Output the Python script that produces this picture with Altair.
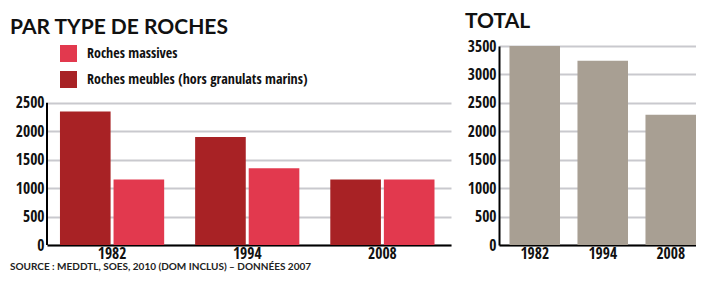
import altair as alt
import pandas as pd

years = ["1982", "1994", "2008"]
massives = [1150, 1350, 1150]
meubles = [2350, 1900, 1150]
totals = [3500, 3240, 2290]
series = ["Roches massives", "Roches meubles (hors granulats marins)"]
ticks_left = [0, 500, 1000, 1500, 2000, 2500]
ticks_right = [0, 500, 1000, 1500, 2000, 2500, 3000, 3500]
title_left = "PAR TYPE DE ROCHES"
title_right = "TOTAL"
source = "SOURCE : MEDDTL, SOES, 2010 (DOM INCLUS) – DONNÉES 2007"

LIGHT = "#e2394e"
DARK = "#a82225"
GREY = "#a89f93"
GRID = "#c9c9ce"
NARROW = "'Open Sans Condensed', 'Roboto Condensed', sans-serif"
TITLEF = "Lato, 'Open Sans', sans-serif"

rows = []
for i, y in enumerate(years):
    rows.append({"year": y, "serie": series[1], "value": meubles[i]})
    rows.append({"year": y, "serie": series[0], "value": massives[i]})
left_df = pd.DataFrame(rows)
total_df = pd.DataFrame({"year": years, "value": totals})
axis_df = pd.DataFrame({"lo": [ticks_left[0]], "hi": [ticks_left[-1]]})
src_df = pd.DataFrame({"t": [source]})

ydom = [0, ticks_right[-1]]
H = 199

left_yaxis = alt.Axis(values=ticks_left, format="d", domain=False, ticks=False,
                      grid=True, labelPadding=3, labelOverlap=False)
left_yscale = alt.Scale(domain=ydom, nice=False)

bars = alt.Chart(left_df).mark_bar().encode(
    x=alt.X("year:N", title=None,
            scale=alt.Scale(paddingInner=0.229, paddingOuter=0.109, align=0.44),
            axis=alt.Axis(labelAngle=0, domainColor="black", domainWidth=2,
                          ticks=False, labelPadding=1)),
    xOffset=alt.XOffset("serie:N", sort=[series[1], series[0]],
                        scale=alt.Scale(paddingInner=0.055)),
    y=alt.Y("value:Q", title=None, scale=left_yscale, axis=left_yaxis),
    color=alt.Color("serie:N",
                    scale=alt.Scale(domain=series, range=[LIGHT, DARK]),
                    legend=alt.Legend(title=None, orient="none", legendX=13, legendY=-1,
                                      symbolType="square", symbolSize=289,
                                      symbolStrokeWidth=0, symbolOpacity=1,
                                      labelFont=NARROW, labelFontSize=14,
                                      labelFontWeight="bold", labelColor="#111",
                                      labelOffset=10, rowPadding=9, labelLimit=400)),
)

yrule = alt.Chart(axis_df).mark_rule(color="black", strokeWidth=2).encode(
    y=alt.Y("lo:Q", title=None, scale=left_yscale, axis=left_yaxis),
    y2="hi:Q", x=alt.value(0)
)

src = alt.Chart(src_df).mark_text(
    align="left", baseline="alphabetic", font=TITLEF, fontSize=10, fontWeight="bold",
    color="#222"
).encode(text="t:N", x=alt.value(-37), y=alt.value(H + 25))

left = alt.layer(bars, yrule, src).properties(
    width=404, height=H,
    title=alt.TitleParams(title_left, anchor="start", dx=-37, frame="group",
                          font=TITLEF, fontSize=21, fontWeight="bold",
                          color="#111", offset=7.5),
)

right = alt.Chart(total_df).mark_bar(color=GREY).encode(
    x=alt.X("year:N", title=None,
            scale=alt.Scale(paddingInner=0.257, paddingOuter=0.077, align=1),
            axis=alt.Axis(labelAngle=0, domainColor="black", domainWidth=2,
                          ticks=False, labelPadding=1)),
    y=alt.Y("value:Q", title=None, scale=alt.Scale(domain=ydom, nice=False),
            axis=alt.Axis(values=ticks_right, format="d", domain=True, domainColor="black",
                          domainWidth=2, ticks=False, grid=True, labelPadding=3,
                          labelOverlap=False)),
).properties(
    width=197, height=H,
    title=alt.TitleParams(title_right, anchor="start", dx=-34, frame="group",
                          font=TITLEF, fontSize=21, fontWeight="bold",
                          color="#111", offset=7.5),
)

chart = alt.hconcat(left, right, spacing=48, bounds="flush").resolve_scale(
    x="independent", y="independent", color="independent"
).properties(
    padding={"left": 2, "top": 2, "right": 0, "bottom": 0}
).configure_view(stroke=None).configure_axis(
    labelFont=NARROW, labelFontSize=15.5, labelFontWeight="bold", labelColor="#111",
    gridColor=GRID, gridWidth=2
)

chart.save("out.html", embed_options={"renderer": "svg", "actions": False})
